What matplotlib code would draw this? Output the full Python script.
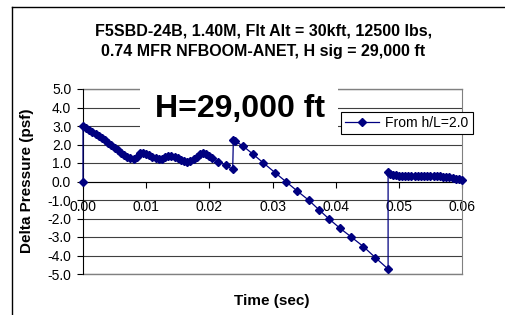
import matplotlib
matplotlib.use("Agg")
import matplotlib.pyplot as plt
from matplotlib.lines import Line2D
from matplotlib.patches import Rectangle

plt.rcParams['font.family'] = ['Liberation Sans', 'DejaVu Sans']

# front part of the signature (dense samples)
front_time = [0.0, 0.0, 0.0005, 0.0010, 0.0015, 0.0020, 0.0025, 0.0030, 0.0035,
              0.0040, 0.0045, 0.0050, 0.0055, 0.0060, 0.0065, 0.0070, 0.0075,
              0.0080, 0.0085, 0.0090, 0.0095, 0.0100, 0.0105, 0.0110, 0.0115,
              0.0120, 0.0125, 0.0130, 0.0135, 0.0140, 0.0145, 0.0150, 0.0155,
              0.0160, 0.0165, 0.0170, 0.0175, 0.0180, 0.0185, 0.0190, 0.0195,
              0.0200, 0.0205, 0.0214, 0.0226, 0.0237]
front_dp = [0.0, 3.00, 2.90, 2.80, 2.70, 2.58, 2.47, 2.35, 2.23,
            2.10, 1.96, 1.82, 1.68, 1.55, 1.43, 1.33, 1.25,
            1.20, 1.35, 1.55, 1.55, 1.48, 1.42, 1.35, 1.27,
            1.22, 1.22, 1.30, 1.38, 1.38, 1.33, 1.25, 1.18,
            1.12, 1.08, 1.10, 1.20, 1.35, 1.50, 1.55, 1.48,
            1.38, 1.28, 1.07, 0.88, 0.65]

# linear expansion ramp
ramp_time = [0.0238, 0.0241, 0.0254, 0.0269, 0.0285, 0.0304, 0.0321, 0.0339,
             0.0357, 0.0374, 0.0390, 0.0407, 0.0424, 0.0444, 0.0463, 0.0483]
ramp_dp = [2.25, 2.18, 1.90, 1.48, 1.02, 0.48, 0.00, -0.51,
           -1.00, -1.54, -2.04, -2.53, -2.98, -3.52, -4.12, -4.73]

# recompression tail
tail_time = [0.0483, 0.0486, 0.0490, 0.0495, 0.0500, 0.0505, 0.0510, 0.0515,
             0.0520, 0.0525, 0.0530, 0.0535, 0.0540, 0.0545, 0.0550, 0.0555,
             0.0560, 0.0565, 0.0570, 0.0575, 0.0580, 0.0585, 0.0590, 0.0595,
             0.0600]
tail_dp = [0.50, 0.42, 0.36, 0.33, 0.32, 0.32, 0.32, 0.32,
           0.32, 0.32, 0.32, 0.31, 0.31, 0.31, 0.30, 0.30,
           0.29, 0.28, 0.26, 0.24, 0.22, 0.19, 0.16, 0.13,
           0.10]

time = front_time + ramp_time + tail_time
dp = front_dp + ramp_dp + tail_dp

yticks = [5.0, 4.0, 3.0, 2.0, 1.0, 0.0, -1.0, -2.0, -3.0, -4.0, -5.0]
xticks = [0.00, 0.01, 0.02, 0.03, 0.04, 0.05, 0.06]

W, H = 505, 315
fig = plt.figure(figsize=(W / 100, H / 100), dpi=100)
ax = fig.add_axes([83 / W, 1 - 274 / H, 379 / W, 185 / H])

navy = "#000080"
ax.plot(time, dp, color=navy, lw=0.9, marker="D", ms=4.2, mec=navy, mfc=navy,
        label="From h/L=2.0", zorder=5, clip_on=False)

ax.set_xlim(0, 0.06)
ax.set_ylim(-5, 5)
ax.set_yticks(yticks)
ax.set_yticklabels([f"{v:.1f}" for v in yticks])
ax.set_xticks(xticks)
ax.set_xticklabels([f"{v:.2f}" for v in xticks])
for y in yticks:
    ax.axhline(y, color="#404040", lw=0.8, zorder=1)

ax.spines["bottom"].set_position(("data", 0))
ax.spines["bottom"].set_color("black")
ax.spines["left"].set_color("black")
ax.spines["top"].set_visible(False)
ax.spines["right"].set_color("#808080")
ax.tick_params(axis="x", direction="out", length=4, pad=9, labelsize=10, width=0.8)
ax.tick_params(axis="y", direction="out", length=4, pad=4.5, labelsize=10, width=0.8)
ax.plot([0, 0.06], [-5, -5], color="#808080", lw=1, clip_on=False, zorder=2)
ax.plot([0, 0.06], [5, 5], color="#808080", lw=1, clip_on=False, zorder=2)

# white box behind the big annotation
ax.add_patch(Rectangle((57 / 379, 143 / 185), 198 / 379, 47 / 185,
                       transform=ax.transAxes, facecolor="white",
                       edgecolor="none", clip_on=False, zorder=3))
ax.text((240 - 83) / 379, (274 - 109) / 185, "H=29,000 ft", transform=ax.transAxes,
        ha="center", va="center", fontsize=23, fontweight="bold", zorder=4)

leg = ax.legend(loc="upper left", bbox_to_anchor=(341 / W, 1 - 112 / H),
                bbox_transform=fig.transFigure, borderaxespad=0, fontsize=10,
                fancybox=False, edgecolor="black", framealpha=1,
                handlelength=2.4, handletextpad=0.5, borderpad=0.3)
leg.get_frame().set_linewidth(0.8)
leg.set_zorder(6)

fig.text(264 / W, 1 - 30.5 / H, "F5SBD-24B, 1.40M, Flt Alt = 30kft, 12500 lbs,",
         ha="center", va="center", fontsize=11.5, fontweight="bold")
fig.text(263 / W, 1 - 51.5 / H, "0.74 MFR NFBOOM-ANET, H sig = 29,000 ft",
         ha="center", va="center", fontsize=11.5, fontweight="bold")
fig.text(27 / W, 1 - 181 / H, "Delta Pressure (psf)", rotation=90,
         ha="center", va="center", fontsize=11, fontweight="bold")
fig.text(272 / W, 1 - 301 / H, "Time (sec)", ha="center", va="center",
         fontsize=11, fontweight="bold")

# outer chart frame (left and top edges visible)
fig.add_artist(Line2D([12 / W, 12 / W], [0, 1 - 7 / H], color="black", lw=1))
fig.add_artist(Line2D([12 / W, 1], [1 - 7 / H, 1 - 7 / H], color="black", lw=1))

fig.savefig("out.png", dpi=100)
